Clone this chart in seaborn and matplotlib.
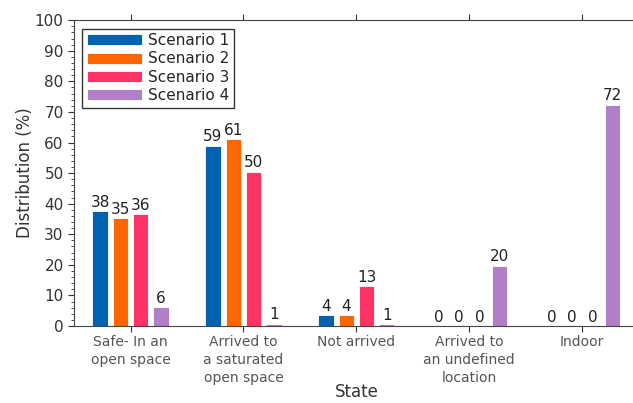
import pandas as pd
import numpy as np
import matplotlib.pyplot as plt
import seaborn as sns
from matplotlib.ticker import MultipleLocator

sns.set_style('ticks')
plt.rcParams['font.family'] = ['DejaVu Sans']

# data
states = ['Safe- In an\nopen space', 'Arrived to\na saturated\nopen space', 'Not arrived',
          'Arrived to\nan undefined\nlocation', 'Indoor']
scenarios = ['Scenario 1', 'Scenario 2', 'Scenario 3', 'Scenario 4']
scenario_1 = [37.5, 58.9, 3.6, 0, 0]
scenario_2 = [35.2, 61.1, 3.6, 0, 0]
scenario_3 = [36.5, 50.4, 13.1, 0, 0]
scenario_4 = [6.2, 0.8, 0.6, 19.7, 72.4]
colors = ['#0062b0', '#ff6600', '#ff3366', '#b07fc8']

rows = []
for name, vals in zip(scenarios, [scenario_1, scenario_2, scenario_3, scenario_4]):
    for st, v in zip(states, vals):
        rows.append({'State': st, 'Scenario': name, 'Value': v})
df = pd.DataFrame(rows)

fig = plt.figure(figsize=(6.33, 4.03), dpi=100)
ax = fig.add_axes([0.117, 0.191, 0.892, 0.759])

sns.barplot(data=df, x='State', y='Value', hue='Scenario', order=states, hue_order=scenarios,
            palette=colors, width=0.72, gap=0.25, edgecolor='white', linewidth=0.6,
            saturation=1, errorbar=None, ax=ax)

for cont in ax.containers:
    ax.bar_label(cont, fmt='%.0f', padding=1, fontsize=11, color='#222222')

ax.set_xlim(-0.5, 4.5)
ax.set_ylim(0, 100)
ax.yaxis.set_major_locator(MultipleLocator(10))
ax.yaxis.set_minor_locator(MultipleLocator(2))
ax.tick_params(axis='y', which='major', length=4, labelsize=11, labelcolor='#333333', color='#333333')
ax.tick_params(axis='y', which='minor', length=2, color='#333333')
ax.tick_params(axis='x', top=True, length=4, pad=2.5, labelsize=10, labelcolor='#555555', color='#333333')
for lab in ax.get_xticklabels():
    lab.set_linespacing(1.35)
ax.set_xlabel('State', fontsize=12, color='#333333')
ax.xaxis.label.set_va('center')
ax.xaxis.set_label_coords(0.5, -0.216)
ax.set_ylabel('Distribution (%)', fontsize=12, color='#333333')
ax.yaxis.label.set_va('center')
ax.yaxis.set_label_coords(-0.087, 0.5)

for side in ['left', 'bottom', 'top']:
    ax.spines[side].set_visible(True)
    ax.spines[side].set_color('#444444')
ax.spines['right'].set_visible(False)

ax.legend(loc='upper left', bbox_to_anchor=(0.0, 1.0), fontsize=11, fancybox=False,
          edgecolor='#333333', framealpha=1, handlelength=3.6, handleheight=0.75,
          labelspacing=0.22, borderpad=0.3, handletextpad=0.4, borderaxespad=0.55)

fig.savefig('out.png', dpi=100)
